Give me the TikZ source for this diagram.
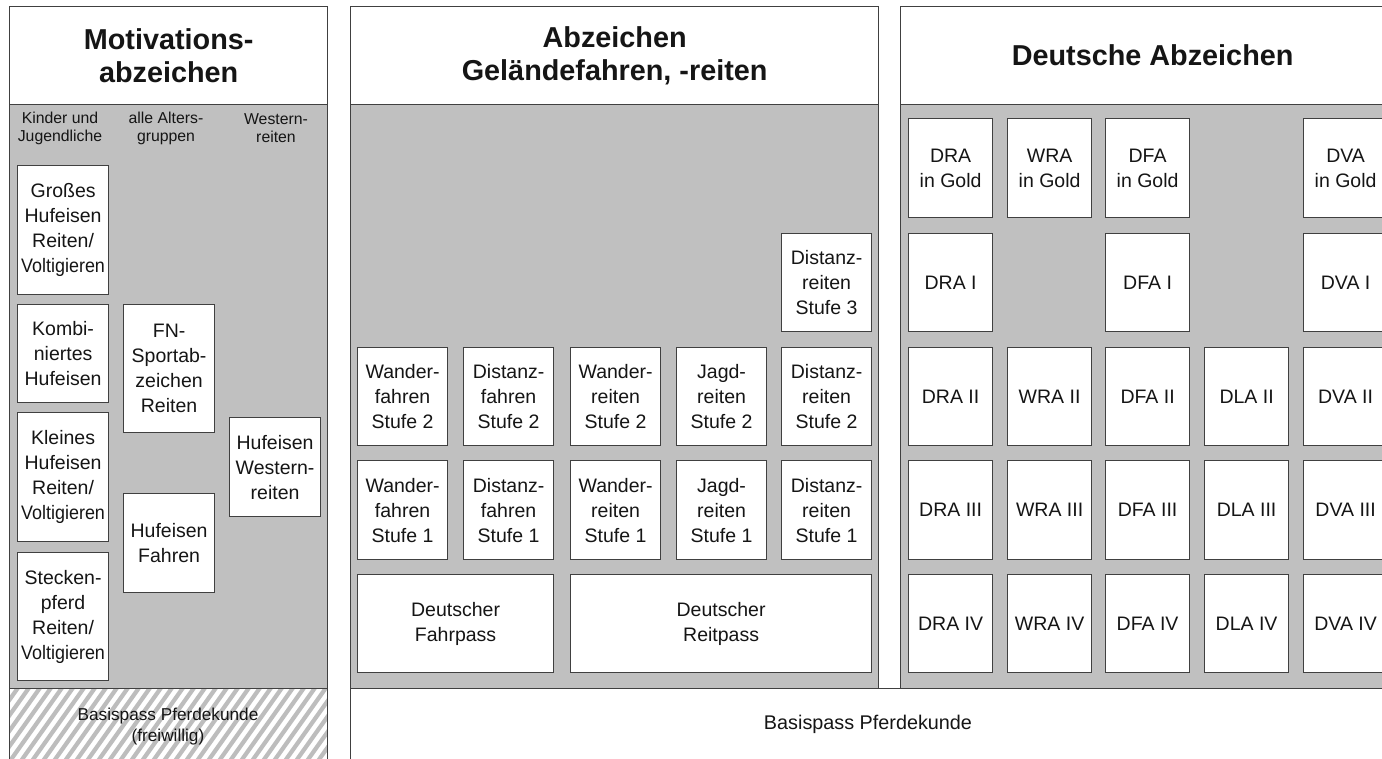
\documentclass[tikz,border=0pt]{standalone}
\usepackage{fontspec}
\usepackage{graphicx}
\setmainfont{Liberation Sans}
\newcommand\fsz[2]{\fontsize{#1pt}{#2pt}\selectfont}
\newcommand\sq[1]{\scalebox{0.92}[1]{#1}}
\definecolor{lc}{HTML}{404040}
\definecolor{pg}{HTML}{C0C0C0}
\definecolor{hg}{HTML}{BDBDBD}
\definecolor{tx}{HTML}{151515}
\tikzset{
  panelw/.style={draw=lc, fill=white, line width=1.3pt, inner sep=0pt, anchor=north west, align=center, text=tx},
  panelg/.style={draw=lc, fill=pg, line width=1.3pt, inner sep=0pt, anchor=north west},
  ttl/.style={font=\bfseries\fsz{28.8}{32.5}},
  badge/.style={draw=lc, fill=white, line width=1.2pt, inner sep=0pt, anchor=north west, align=center, text=tx, font=\fsz{19.5}{25}},
  hdr/.style={inner sep=0pt, align=center, text=tx, font=\fsz{15.8}{18}},
  hatch/.style={draw=hg, line width=4.2pt},
}
\newcommand\bx[6]{\node[badge, minimum width=#3pt, minimum height=#4pt] (#5) at (#1,#2) {#6};}
\begin{document}
\begin{tikzpicture}[x=1pt,y=-1pt]
\useasboundingbox (0,0) rectangle (1382,759);
% ---------- left panel ----------
\node[panelw, ttl, minimum width=318pt, minimum height=98pt] (mt) at (9,6) {Motivations-\\abzeichen};
\node[panelg, minimum width=318pt, minimum height=584pt] (mg) at (9,104) {};
\node[hdr] (h1) at (60,128) {Kinder und\\Jugendliche};
\node[hdr] (h2) at (166,128) {alle Alters-\\gruppen};
\node[hdr] (h3) at (276,128) {Western-\\reiten};
\bx{17}{165}{91}{129}{gh}{Großes\\Hufeisen\\Reiten/\\\sq{Voltigieren}}
\bx{17}{304}{91}{98}{kh}{Kombi-\\niertes\\Hufeisen}
\bx{17}{412}{91}{129}{klh}{Kleines\\Hufeisen\\Reiten/\\\sq{Voltigieren}}
\bx{17}{552}{91}{128}{sp}{Stecken-\\pferd\\Reiten/\\\sq{Voltigieren}}
\bx{123}{304}{91}{128}{fn}{FN-\\Sportab-\\zeichen\\Reiten}
\bx{123}{493}{91}{99}{hf}{Hufeisen\\Fahren}
\bx{229}{417}{91}{99}{hw}{Hufeisen\\Western-\\reiten}
% hatched bottom
\begin{scope}
\clip (9,688) rectangle (327,770);
\fill[white] (9,688) rectangle (327,770);
\foreach \i in {-12,...,34} \draw[hatch] (\i*11,775) -- ++(64,-90);
\end{scope}
\node[panelw, minimum width=318pt, minimum height=82pt, fill=none] (lb) at (9,688) {};
\node[hdr, font=\fsz{17.2}{21}] (lbt) at (168,727) {Basispass Pferdekunde\\(freiwillig)};
% ---------- middle panel ----------
\node[panelw, ttl, minimum width=528pt, minimum height=98pt] (gt) at (350,6) {Abzeichen\\Geländefahren, -reiten};
\node[panelg, minimum width=528pt, minimum height=584pt] (gg) at (350,104) {};
\bx{781}{233}{90}{98}{dr3}{Distanz-\\reiten\\Stufe 3}
\bx{357}{347}{90}{98}{wf2}{Wander-\\fahren\\Stufe 2}
\bx{463}{347}{90}{98}{df2}{Distanz-\\fahren\\Stufe 2}
\bx{570}{347}{90}{98}{wr2}{Wander-\\reiten\\Stufe 2}
\bx{676}{347}{90}{98}{jr2}{Jagd-\\reiten\\Stufe 2}
\bx{781}{347}{90}{98}{dr2}{Distanz-\\reiten\\Stufe 2}
\bx{357}{460}{90}{99}{wf1}{Wander-\\fahren\\Stufe 1}
\bx{463}{460}{90}{99}{df1}{Distanz-\\fahren\\Stufe 1}
\bx{570}{460}{90}{99}{wr1}{Wander-\\reiten\\Stufe 1}
\bx{676}{460}{90}{99}{jr1}{Jagd-\\reiten\\Stufe 1}
\bx{781}{460}{90}{99}{dr1}{Distanz-\\reiten\\Stufe 1}
\bx{357}{574}{196}{98}{dfp}{Deutscher\\Fahrpass}
\bx{570}{574}{301}{98}{drp}{Deutscher\\Reitpass}
% ---------- right panel ----------
\node[panelw, ttl, minimum width=504pt, minimum height=98pt] (dt) at (900,6) {Deutsche Abzeichen};
\node[panelg, minimum width=504pt, minimum height=584pt] (dg) at (900,104) {};
\bx{908}{118}{84}{99}{drag}{DRA\\in Gold}
\bx{1007}{118}{84}{99}{wrag}{WRA\\in Gold}
\bx{1105}{118}{84}{99}{dfag}{DFA\\in Gold}
\bx{1303}{118}{84}{99}{dvag}{DVA\\in Gold}
\bx{908}{233}{84}{98}{dra1}{DRA I}
\bx{1105}{233}{84}{98}{dfa1}{DFA I}
\bx{1303}{233}{84}{98}{dva1}{DVA I}
\bx{908}{347}{84}{98}{dra2}{DRA II}
\bx{1007}{347}{84}{98}{wra2}{WRA II}
\bx{1105}{347}{84}{98}{dfa2}{DFA II}
\bx{1204}{347}{84}{98}{dla2}{DLA II}
\bx{1303}{347}{84}{98}{dva2}{DVA II}
\bx{908}{460}{84}{99}{dra3}{DRA III}
\bx{1007}{460}{84}{99}{wra3}{WRA III}
\bx{1105}{460}{84}{99}{dfa3}{DFA III}
\bx{1204}{460}{84}{99}{dla3}{DLA III}
\bx{1303}{460}{84}{99}{dva3}{DVA III}
\bx{908}{574}{84}{98}{dra4}{DRA IV}
\bx{1007}{574}{84}{98}{wra4}{WRA IV}
\bx{1105}{574}{84}{98}{dfa4}{DFA IV}
\bx{1204}{574}{84}{98}{dla4}{DLA IV}
\bx{1303}{574}{84}{98}{dva4}{DVA IV}
% ---------- bottom basis ----------
\node[panelw, minimum width=1054pt, minimum height=82pt] (bp) at (350,688) {};
\node[hdr, font=\fsz{19.8}{22}] (bpt) at (868,724) {Basispass Pferdekunde};
\end{tikzpicture}
\end{document}
